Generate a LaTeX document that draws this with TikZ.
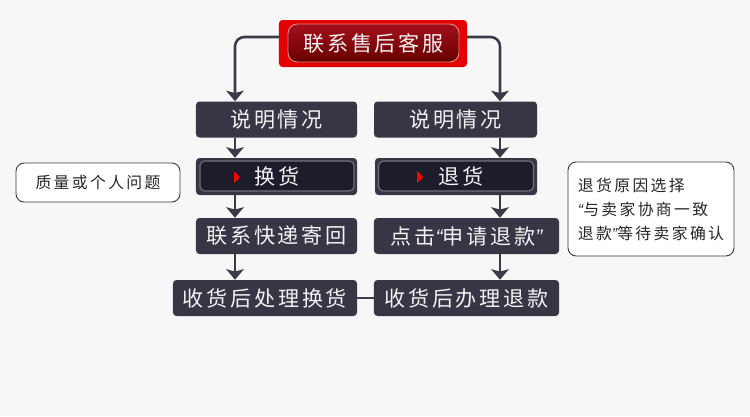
\documentclass[tikz,border=0pt]{standalone}
\usepackage{fontspec}
\setmainfont{Noto Sans CJK SC}
\newfontfamily\quotefont{Liberation Sans}
\usetikzlibrary{arrows.meta}

\definecolor{bg}{HTML}{F7F7F7}
\definecolor{boxgray}{HTML}{363645}
\definecolor{innerdark}{HTML}{1C1C2A}
\definecolor{innerrim}{HTML}{70707E}
\definecolor{linegray}{HTML}{3A3A48}
\definecolor{txt}{HTML}{F2F2F2}
\definecolor{redout}{HTML}{E20000}
\definecolor{redtop}{HTML}{A3101C}
\definecolor{redbot}{HTML}{680000}
\definecolor{redrim}{HTML}{D88A8A}

\newcommand{\bigtxt}{\fontsize{18}{20}\selectfont\addfontfeature{LetterSpace=13}}
\newcommand{\smalltxt}{\fontsize{13.5}{20.5}\selectfont\addfontfeature{LetterSpace=15}}
\newcommand{\openq}{{\quotefont\itshape “}}
\newcommand{\closeq}{{\quotefont\itshape ”}}

\begin{document}
\begin{tikzpicture}[x=0.03cm,y=-0.03cm,
    stepbox/.style={fill=boxgray,rounded corners=3pt,text=txt,inner sep=0pt,
      minimum height=1.08cm,font=\bigtxt},
    innerbox/.style={fill=innerdark,draw=innerrim,line width=1pt,rounded corners=4pt,
      inner sep=0pt,minimum height=0.9cm},
    notebox/.style={fill=white,draw=linegray,line width=0.8pt,rounded corners=7pt,
      inner sep=0pt,text=black!85,font=\smalltxt},
    conn/.style={draw=linegray,line width=2.2pt,
      -{Stealth[width=15pt,length=9pt,inset=2pt]}},
    link/.style={draw=linegray,line width=2.2pt}
  ]
  \fill[bg] (0,0) rectangle (750,416);
  \useasboundingbox (0,0) rectangle (750,416);

  % columns of the connectors
  \coordinate (lcol) at (235,0);
  \coordinate (rcol) at (500,0);

  % top box
  \node[fill=redout,rounded corners=3pt,minimum width=5.64cm,minimum height=1.41cm,
    inner sep=0pt] (topout) at (373,43.5) {};
  \node[top color=redtop,bottom color=redbot,draw=redrim,line width=0.8pt,
    rounded corners=8pt,minimum width=5.13cm,minimum height=1.14cm,inner sep=0pt,
    text=txt,font=\bigtxt] (top) at (373.5,43) {联系售后客服};
  \coordinate (tl) at (279,37);
  \coordinate (tr) at (467,37);

  % left column
  \node[stepbox,minimum width=4.83cm] (sm1) at (276.5,119.5) {说明情况};
  \node[stepbox,minimum width=4.83cm,minimum height=1.11cm] (hh) at (276.5,176.5) {};
  \node[innerbox,minimum width=4.62cm,text=txt,font=\bigtxt] (hhin) at (277,176) {换货};
  \node[stepbox,minimum width=4.83cm] (kd) at (276.5,236) {联系快递寄回};
  \node[stepbox,minimum width=5.52cm] (sh) at (265,298) {收货后处理换货};

  % right column
  \node[stepbox,minimum width=4.89cm] (sm2) at (455.5,119.5) {说明情况};
  \node[stepbox,minimum width=4.86cm,minimum height=1.11cm] (th) at (456,176.5) {};
  \node[innerbox,minimum width=4.65cm,text=txt,font=\bigtxt] (thin) at (456,176) {\hspace{8pt}退货};
  \node[stepbox,minimum width=5.55cm] (sq) at (466.5,236) {点击\openq 申请退款\closeq};
  \node[stepbox,minimum width=5.55cm] (tk) at (466.5,298) {收货后办理退款};

  % red marks
  \fill[red] (234,171) -- (240,177) -- (234,183) -- cycle;
  \fill[red] (417,171) -- (423,177) -- (417,183) -- cycle;

  % notes
  \node[notebox,minimum width=4.92cm,minimum height=1.17cm] (n1) at (98,182.5) {质量或个人问题};
  \node[notebox,minimum width=4.98cm,minimum height=2.82cm,align=left] (n2) at (651,209)
    {退货原因选择\\\openq 与卖家协商一致\\退款\closeq 等待卖家确认};

  % connectors
  \draw[conn,rounded corners=8pt] (tl) -| (lcol |- sm1.north);
  \draw[conn,rounded corners=8pt] (tr) -| (rcol |- sm2.north);
  \draw[conn] (lcol |- sm1.south) -- (lcol |- hh.north);
  \draw[conn] (lcol |- hh.south) -- (lcol |- kd.north);
  \draw[conn] (lcol |- kd.south) -- (lcol |- sh.north);
  \draw[conn] (rcol |- sm2.south) -- (rcol |- th.north);
  \draw[conn] (rcol |- th.south) -- (rcol |- sq.north);
  \draw[conn] (rcol |- sq.south) -- (rcol |- tk.north);
  \draw[link] (sh.east) -- (tk.west);
\end{tikzpicture}
\end{document}
